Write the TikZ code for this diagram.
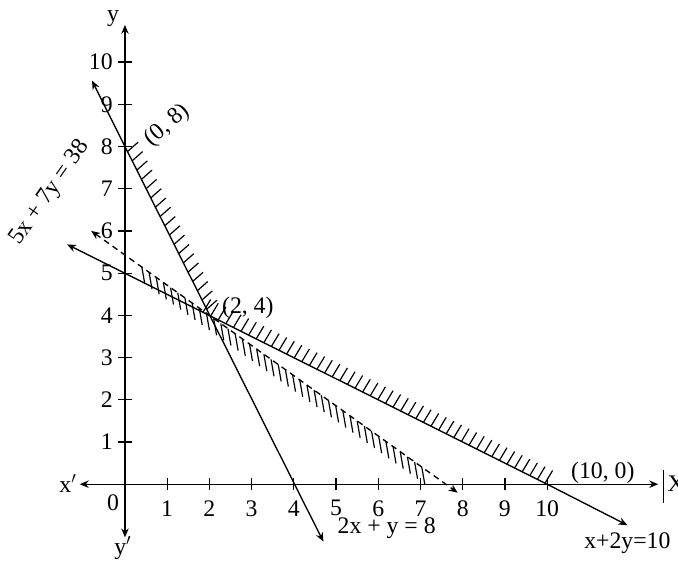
\documentclass[tikz,border=0pt]{standalone}
\usepackage{fontspec}
\setmainfont{Liberation Serif}
\usetikzlibrary{arrows.meta}

\begin{document}
\begin{tikzpicture}[
    >={Stealth[length=6pt,width=5pt]},
    line width=0.9pt,
    every node/.style={font=\fontsize{16}{18}\selectfont, inner sep=1pt},
    tickmark/.style={line width=0.8pt},
    hatch/.style={line width=0.8pt},
    dashline/.style={dash pattern=on 4pt off 3pt}
]
\useasboundingbox (-2.96,-1.82) rectangle (13.10,11.47);

% ==========================================================
% AXES
% ==========================================================
\coordinate (O) at (0,0);
\coordinate (xleft) at (-1.07,0);
\coordinate (xright) at (12.63,0);
\coordinate (ytop) at (0,10.88);
\coordinate (ybottom) at (0,-1.26);

\draw[->] (O) -- (xright);
\draw[->] (O) -- (xleft);
\draw[->] (O) -- (ytop);
\draw[->] (O) -- (ybottom);

\node (ylabel) at (-0.28,11.04) {y};
\node (yplabel) at (-0.05,-1.52) {y$'$};
\node (xplabel) at (-1.35,0.02) {x$'$};
\node[anchor=west] (xlabel) at (12.80,0.02) {X};
\draw (12.75,0.33) -- (12.75,-0.45);
\node (origin) at (-0.28,-0.43) {0};

% ticks
\foreach \i in {1,...,10} {
    \draw[tickmark] (\i,-0.14) -- (\i,0.14);
    \node (xt\i) at (\i,-0.57) {\i};
}
\foreach \j in {1,...,10} {
    \draw[tickmark] (-0.16,\j) -- (0.16,\j);
    \node[anchor=east] (yt\j) at (-0.24,\j) {\j};
}

% ==========================================================
% LINES
% ==========================================================
\coordinate (P08) at (0,8);
\coordinate (P24) at (2,4);
\coordinate (P100) at (10,0);

% 2x + y = 8
\coordinate (La) at (-0.78,9.56);
\coordinate (Lb) at (4.70,-1.36);
\draw[->] (P08) -- (La);
\draw[->] (P08) -- (Lb);

% x + 2y = 10
\coordinate (Ma) at (-1.37,5.68);
\coordinate (Mb) at (11.90,-0.97);
\draw[->] (P100) -- (Ma);
\draw[->] (P100) -- (Mb);

% 5x + 7y = 38
\coordinate (Na) at (-0.80,6.00);
\coordinate (Nb) at (7.88,-0.20);
\draw[dashline, <->] (Na) -- (Nb);

% ==========================================================
% HATCHING
% ==========================================================
\foreach \x in {0.06,0.17,...,1.95}
    \draw[hatch] (\x,{8-2*\x}) -- ++(0.25,0.22);
\foreach \x in {1.85,2.03,...,9.95}
    \draw[hatch] (\x,{5-\x/2}) -- ++(0.18,0.30);
\foreach \x in {0.40,0.57,...,7.05}
    \draw[hatch] (\x,{(38-5*\x)/7}) -- ++(0.07,-0.40);

% ==========================================================
% LABELS
% ==========================================================
\node[rotate=40] (l08) at (1.0,8.5) {(0, 8)};
\node (l24) at (2.91,4.17) {(2, 4)};
\node (l100) at (11.32,0.28) {(10, 0)};
\node (lA) at (6.2,-1.04) {2x + y = 8};
\node (lM) at (11.9,-1.4) {x+2y=10};
\node[rotate=55] (lN) at (-1.78,6.9) {5x + 7y = 38};

\end{tikzpicture}
\end{document}
